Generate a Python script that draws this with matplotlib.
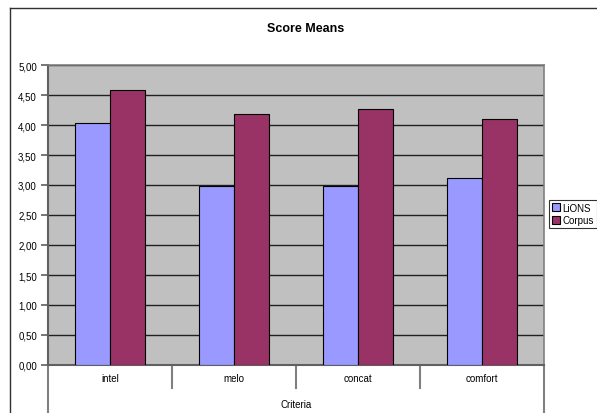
import numpy as np
import matplotlib.pyplot as plt
from matplotlib.lines import Line2D

categories = ["intel", "melo", "concat", "comfort"]
lions = [4.03, 2.98, 2.98, 3.12]
corpus = [4.59, 4.19, 4.27, 4.10]
yticks = [0.0, 0.5, 1.0, 1.5, 2.0, 2.5, 3.0, 3.5, 4.0, 4.5, 5.0]

plt.rcParams['font.family'] = ['Liberation Sans', 'DejaVu Sans']

W, H = 597, 414
fig = plt.figure(figsize=(W / 100, H / 100), dpi=100)
ax = fig.add_axes([48 / W, (H - 366) / H, 496 / W, 300 / H])
ax.set_facecolor("#c0c0c0")

x = np.arange(len(categories))
bw = 0.285
ax.bar(x - bw / 2, lions, bw, color="#9999ff", edgecolor="black", linewidth=0.8, label="LiONS", zorder=3)
ax.bar(x + bw / 2, corpus, bw, color="#993366", edgecolor="black", linewidth=0.8, label="Corpus", zorder=3)

ax.set_xlim(-0.5, len(categories) - 0.5)
ax.set_ylim(0, 5)
ax.set_yticks(yticks)
ax.set_yticklabels([("%.2f" % v).replace(".", ",") for v in yticks], fontsize=7)
ax.yaxis.set_tick_params(direction="out", length=5, width=1.2, color="#606060", pad=3)
ax.grid(axis="y", color="#202020", linewidth=1.0, zorder=1)
ax.set_axisbelow(True)

ax.set_xticks(x)
ax.set_xticklabels(categories, fontsize=7)
ax.xaxis.set_tick_params(length=0, pad=6)
for s in ["top", "right"]:
    ax.spines[s].set_color("#808080")
    ax.spines[s].set_linewidth(1.2)
for s in ["left", "bottom"]:
    ax.spines[s].set_color("#606060")
    ax.spines[s].set_linewidth(1.5)

# category separators below the axis (in data units: 60 px per unit)
for i in range(len(categories) + 1):
    xb = i - 0.5
    end = -23 / 60 if 0 < i < len(categories) else -48 / 60
    ax.add_line(Line2D([xb, xb], [0, end], color="#808080", linewidth=1.5, clip_on=False))

ax.set_xlabel("Criteria", fontsize=7, labelpad=11)

fig.text(306 / W, 1 - 29 / H, "Score Means", ha="center", va="center",
         fontsize=9, fontweight="bold")

# chart frame
fig.add_artist(Line2D([10 / W, 1.0], [1 - 9 / H, 1 - 9 / H], color="#303030", linewidth=1.0))
fig.add_artist(Line2D([10 / W, 10 / W], [0, 1 - 9 / H], color="#303030", linewidth=1.0))

leg = fig.legend(loc="center left", bbox_to_anchor=(549 / W, 1 - 215 / H), fontsize=7,
                 frameon=True, fancybox=False, edgecolor="black", handlelength=0.8,
                 handleheight=0.8, handletextpad=0.3, borderpad=0.3, labelspacing=0.3,
                 borderaxespad=0)
leg.get_frame().set_linewidth(0.8)

fig.savefig("out.png", dpi=100)
